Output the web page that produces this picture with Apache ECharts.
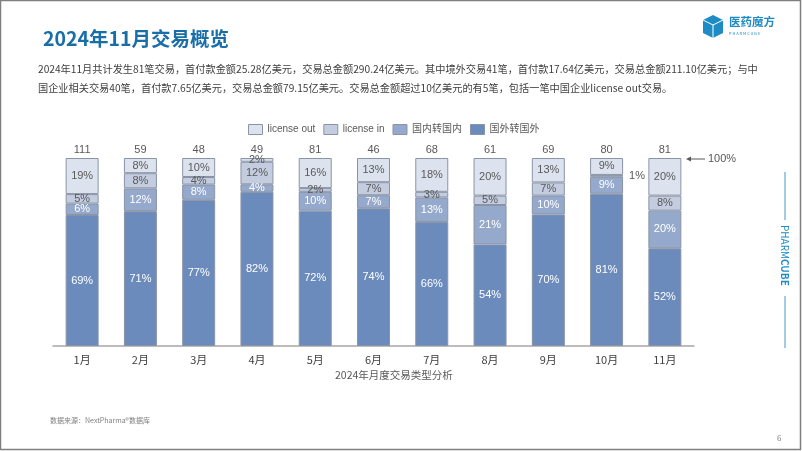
<!DOCTYPE html>
<html>
<head>
<meta charset="utf-8">
<script src="https://cdn.jsdelivr.net/npm/echarts@6/dist/echarts.min.js"></script>
<style>
  html, body { margin: 0; padding: 0; background: #fff; }
  #main { width: 802px; height: 451px; }
</style>
</head>
<body>
<div id="main"></div>
<script>
// 月份
var months = ['1月', '2月', '3月', '4月', '5月', '6月', '7月', '8月', '9月', '10月', '11月'];
// 每月交易笔数
var dealCounts = [111, 59, 48, 49, 81, 46, 68, 61, 69, 80, 81];
// 各类型占比(%)
var abroadToAbroad = [69, 71, 77, 82, 72, 74, 66, 54, 70, 81, 52];
var domesticToDomestic = [6, 12, 8, 4, 10, 7, 13, 21, 10, 9, 20];
var licenseIn = [5, 8, 4, 12, 2, 7, 3, 5, 7, 1, 8];
var licenseOut = [19, 8, 10, 2, 16, 13, 18, 20, 13, 9, 20];

var font = '"Noto Sans CJK SC", "Liberation Sans", sans-serif';
var latinFont = '"Liberation Sans", "Noto Sans CJK SC", sans-serif';
var colors = ['#6c8bbd', '#95a9cc', '#c4cde0', '#dde3ee'];

// 每根柱子归一到100%，标签仍显示原始占比
function toItems(arr) {
    return arr.map(function (v, i) {
        var sum = abroadToAbroad[i] + domesticToDomestic[i] + licenseIn[i] + licenseOut[i];
        return { value: v / sum * 100, raw: v };
    });
}

function makeSeries(name, arr, idx, labelColor) {
    return {
        name: name,
        type: 'bar',
        stack: 'all',
        barWidth: 33,
        data: toItems(arr),
        itemStyle: { color: colors[idx], borderColor: '#8a94a6', borderWidth: 1 },
        label: {
            show: true,
            position: 'inside',
            color: labelColor,
            fontSize: 11,
            fontFamily: latinFont,
            formatter: function (p) { return p.data.raw + '%'; }
        }
    };
}

var s1 = makeSeries('国外转国外', abroadToAbroad, 0, '#ffffff');
var s2 = makeSeries('国内转国内', domesticToDomestic, 1, '#ffffff');
var s3 = makeSeries('license in', licenseIn, 2, '#595959');
var s4 = makeSeries('license out', licenseOut, 3, '#595959');
// 10月的1%放到柱子右边
s3.data[9].label = { position: 'right', distance: 6, color: '#595959' };

var myChart = echarts.init(document.getElementById('main'));
var option = {
    animation: false,
    textStyle: { fontFamily: font },
    grid: { left: 53, right: 108, top: 158, bottom: 105 },
    legend: {
        data: ['license out', 'license in', '国内转国内', '国外转国外'],
        left: 243,
        top: 119,
        icon: 'rect',
        itemWidth: 14,
        itemHeight: 10,
        itemGap: 8,
        textStyle: { color: '#595959', fontSize: 10, fontFamily: latinFont },
        itemStyle: { borderColor: '#8a94a6', borderWidth: 1 }
    },
    xAxis: [
        {
            type: 'category',
            data: months,
            axisLine: { lineStyle: { color: '#a6a6a6', width: 1.5 } },
            axisTick: { show: false },
            axisLabel: { color: '#404040', fontSize: 11, margin: 8 }
        },
        {
            type: 'category',
            position: 'top',
            data: dealCounts,
            axisLine: { show: false },
            axisTick: { show: false },
            axisLabel: { color: '#595959', fontSize: 11, margin: 3, fontFamily: latinFont }
        }
    ],
    yAxis: { type: 'value', min: 0, max: 100, show: false, splitLine: { show: false } },
    series: [s1, s2, s3, s4],
    graphic: [
        { type: 'rect', shape: { x: 0.5, y: 0.5, width: 800, height: 449 }, style: { fill: 'none', stroke: '#7f7f7f', lineWidth: 1.5 }, silent: true },
        { type: 'text', left: 43, top: 29, style: { text: '2024年11月交易概览', fill: '#1a6ea8', font: 'bold 19.5px ' + font } },
        { type: 'text', left: 38, top: 64, style: { text: '2024年11月共计发生81笔交易，首付款金额25.28亿美元，交易总金额290.24亿美元。其中境外交易41笔，首付款17.64亿美元，交易总金额211.10亿美元；与中', fill: '#404040', font: '10.2px ' + font } },
        { type: 'text', left: 38, top: 83, style: { text: '国企业相关交易40笔，首付款7.65亿美元，交易总金额79.15亿美元。交易总金额超过10亿美元的有5笔，包括一笔中国企业license out交易。', fill: '#404040', font: '10.2px ' + font } },
        { type: 'text', left: 335, top: 370, style: { text: '2024年月度交易类型分析', fill: '#595959', font: '10.5px ' + font } },
        { type: 'text', left: 50, top: 417, style: { text: '数据来源：NextPharma®数据库', fill: '#7f7f7f', font: '7px ' + font } },
        { type: 'text', left: 777, top: 434, style: { text: '6', fill: '#7f7f7f', font: '8px ' + font } },
        // 100% 标注
        { type: 'line', shape: { x1: 705, y1: 159, x2: 688, y2: 159 }, style: { stroke: '#595959', lineWidth: 1 } },
        { type: 'polygon', shape: { points: [[686, 159], [691, 156.5], [691, 161.5]] }, style: { fill: '#595959' } },
        { type: 'text', left: 708, top: 153, style: { text: '100%', fill: '#595959', font: '11px ' + latinFont } },
        // logo
        { type: 'polygon', shape: { points: [[703, 20], [713, 15], [723, 20], [723, 33], [713, 38], [703, 33]] }, style: { fill: '#1f8bc4' } },
        { type: 'polyline', shape: { points: [[703, 20], [713, 25], [723, 20]] }, style: { stroke: '#ffffff', lineWidth: 1, fill: 'none' } },
        { type: 'line', shape: { x1: 713, y1: 25, x2: 713, y2: 38 }, style: { stroke: '#ffffff', lineWidth: 1 } },
        { type: 'text', left: 729, top: 16, style: { text: '医药魔方', fill: '#1f8bc4', font: 'bold 11.5px ' + font } },
        { type: 'text', left: 729, top: 31, style: { text: 'P H A R M C U B E', fill: '#1f8bc4', font: '4px ' + font } },
        // 右侧竖排
        { type: 'line', shape: { x1: 785, y1: 172, x2: 785, y2: 220 }, style: { stroke: '#3a9ccc', lineWidth: 1 } },
        { type: 'line', shape: { x1: 785, y1: 296, x2: 785, y2: 348 }, style: { stroke: '#3a9ccc', lineWidth: 1 } },
        { type: 'text', x: 790, y: 225, rotation: -Math.PI / 2, style: { text: 'PHARM', fill: '#1f8bc4', font: '10px ' + font } },
        { type: 'text', x: 790, y: 259, rotation: -Math.PI / 2, style: { text: 'CUBE', fill: '#1f8bc4', font: 'bold 10px ' + font } }
    ]
};
myChart.setOption(option);
</script>
</body>
</html>
